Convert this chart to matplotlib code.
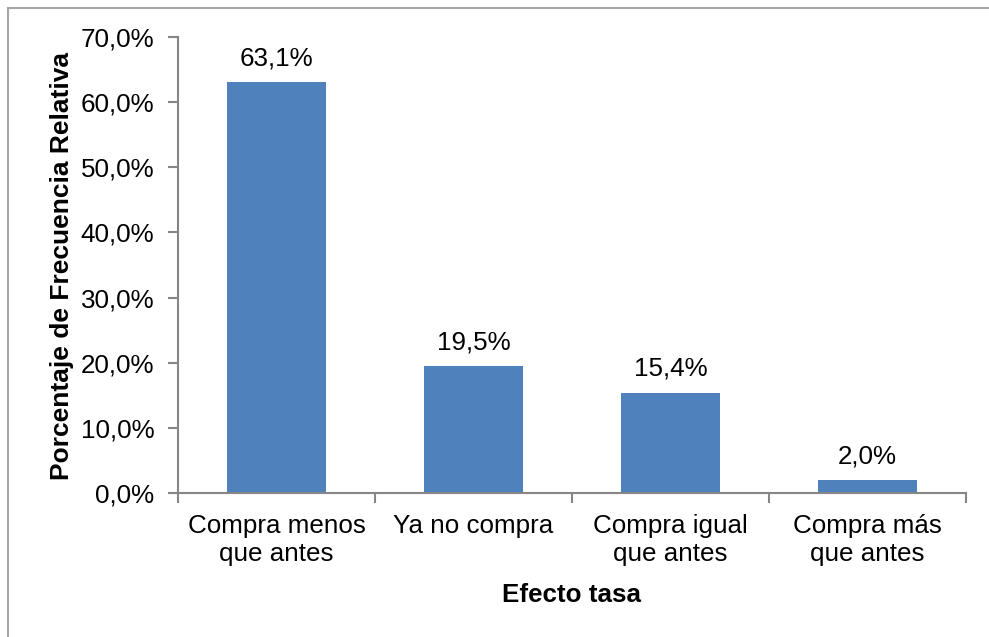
import matplotlib

matplotlib.use("Agg")

import matplotlib.pyplot as plt  # noqa: E402
from matplotlib.lines import Line2D  # noqa: E402
from matplotlib.ticker import FuncFormatter, MultipleLocator  # noqa: E402

plt.rcParams["font.family"] = ["Liberation Sans", "DejaVu Sans"]

# Data.
categories = ["Compra menos\nque antes", "Ya no compra",
              "Compra igual\nque antes", "Compra más\nque antes"]
values = [63.1, 19.5, 15.4, 2.0]

BAR_COLOR = "#4F81BD"
AXIS_COLOR = "#868686"
FS = 18.7


def pct(v, _pos=None, dec=1):
    return f"{v:.{dec}f}%".replace(".", ",")


fig = plt.figure(figsize=(9.89, 6.37), dpi=100)
ax = fig.add_axes([178 / 989, 1 - 493 / 637, (966 - 178) / 989, (493 - 37) / 637])

x = range(len(categories))
bars = ax.bar(x, values, width=0.5, color=BAR_COLOR, zorder=2)
for b, v in zip(bars, values):
    ax.text(b.get_x() + b.get_width() / 2, v + 2.6, pct(v), ha="center",
            va="baseline", fontsize=FS)

ax.set_xlim(-0.5, len(categories) - 0.5)
ax.set_ylim(0, 70)
ax.yaxis.set_major_locator(MultipleLocator(10))
ax.yaxis.set_major_formatter(FuncFormatter(pct))

# category boundaries carry the tick marks, labels sit between them
ax.set_xticks([i - 0.5 for i in range(len(categories) + 1)])
ax.set_xticklabels([])
ax.set_xticks(list(x), minor=True)
ax.set_xticklabels(categories, minor=True, fontsize=FS, linespacing=1.2)
ax.tick_params(axis="x", which="major", direction="out", length=7,
               color=AXIS_COLOR, width=1.5)
ax.tick_params(axis="x", which="minor", length=0, pad=15)
ax.tick_params(axis="y", direction="out", length=7, color=AXIS_COLOR,
               width=1.5, labelsize=FS, pad=10)

for side in ("top", "right"):
    ax.spines[side].set_visible(False)
for side in ("left", "bottom"):
    ax.spines[side].set_color(AXIS_COLOR)
    ax.spines[side].set_linewidth(1.5)

fig.text(62 / 989, 1 - 266 / 637, "Porcentaje de Frecuencia Relativa",
         rotation=90, ha="center", va="center", fontsize=19,
         fontweight="bold")
fig.text(572 / 989, 1 - 595 / 637, "Efecto tasa", ha="center", va="center",
         fontsize=FS, fontweight="bold")

# chart frame: only its top and left edges fall inside the picture
bx, by = 7.5 / 989, 1 - 7.5 / 637
for xs, ys in (([bx, 1.0], [by, by]), ([bx, bx], [by, 0.0])):
    fig.add_artist(Line2D(xs, ys, transform=fig.transFigure,
                          color="#A6A6A6", linewidth=1.5))

fig.savefig("out.png", dpi=100)
